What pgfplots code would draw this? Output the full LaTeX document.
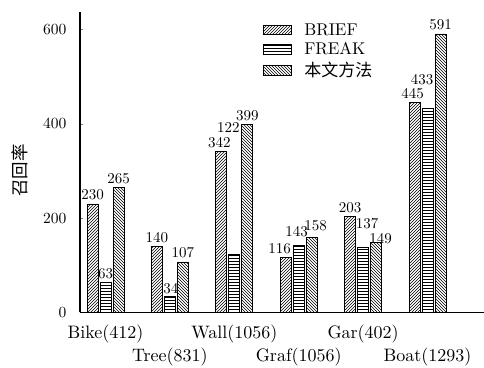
\documentclass[border=0pt]{standalone}
\usepackage{fontspec}
\setmainfont[Extension=.otf]{lmroman10-regular}
\newfontfamily\cjk{Noto Sans CJK SC}
\usepackage{pgfplots}
\usepackage{pgfplotstable}
\pgfplotsset{compat=1.18}
\usetikzlibrary{patterns}

\pgfplotstableread{
x y dx dy
0 230 0 0
1 140 0 0
2 342 -2 0
3 116 -6 0
4 203 0 0
5 445 -2 0
}\brief
\pgfplotstableread{
x y dx dy
0 63 0 0
1 34 1 -1
2 122 -6 119
3 143 -2 4
4 137 4 15
5 433 -5.5 20
}\freak
\pgfplotstableread{
x y dx dy
0 265 0 0
1 107 0 0
2 399 0 0
3 158 4 3
4 149 4.5 -5
5 591 0 0
}\ours

\begin{document}
\begin{tikzpicture}
\begin{axis}[
  name=ax,
  scale only axis,
  width=404pt, height=300pt,
  ybar=2pt, bar width=11pt,
  xmin=-0.396, xmax=5.877,
  ymin=0, ymax=637,
  axis x line*=bottom, axis y line*=left,
  axis line style={line width=1.1pt,-},
  /pgf/number format/assume math mode=true,
  ytick={0,200,400,600},
  tick align=inside,
  major tick length=3pt,
  y tick style={line width=0.8pt},
  yticklabel style={font=\fontsize{15.5}{18}\selectfont, xshift=-10pt},
  xtick={0,2,4},
  xticklabels={Bike(412),Wall(1056),Gar(402)},
  x tick style={draw=none},
  xticklabel style={font=\fontsize{18}{21}\selectfont, yshift=-9pt},
  extra x ticks={1,3,5},
  extra x tick labels={Tree(831),Graf(1056),Boat(1293)},
  extra x tick style={major tick length=0pt, tick style={draw=none}, xticklabel style={yshift=-23pt}},
  ylabel={\cjk 召回率},
  ylabel style={font=\fontsize{17.5}{20}\selectfont, at={(axis description cs:-0.1485,0.473)}, anchor=center},
  legend style={draw=none, fill=none, at={(rel axis cs:0.445,0.975)}, anchor=north west,
    font=\fontsize{17}{20}\selectfont, row sep=3pt, nodes={inner sep=1.5pt}},
  legend cell align=left,
  legend image code/.code={\draw[#1] (0pt,-4.75pt) rectangle (28pt,4.75pt); \path (39pt,0pt);},
  nodes near coords,
  visualization depends on={\thisrow{dx}\as\dx},
  visualization depends on={\thisrow{dy}\as\dy},
  every node near coord/.append style={font=\fontsize{15}{18}\selectfont, xshift=\dx pt, yshift=\dy pt},
]
\addplot[draw=black, line width=0.8pt, fill=white, postaction={pattern=north east lines}] table[x=x,y=y]{\brief};
\addplot[draw=black, line width=0.8pt, fill=white, postaction={pattern=horizontal lines}] table[x=x,y=y]{\freak};
\addplot[draw=black, line width=0.8pt, fill=white, postaction={pattern=north west lines}] table[x=x,y=y]{\ours};
\legend{BRIEF,FREAK,{\cjk 本文方法}}
\end{axis}
\pgfresetboundingbox
\path[use as bounding box] (ax.south west) ++(-80pt,-54.7pt) rectangle ++(484pt,367pt);
\end{tikzpicture}
\end{document}
